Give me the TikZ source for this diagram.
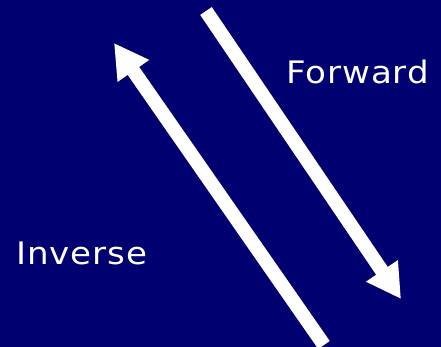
\documentclass[tikz,border=0pt]{standalone}
\usepackage{fontspec}
\setmainfont{DejaVu Sans}
\newfontfamily\lblfont[LetterSpace=3,FakeStretch=1.1]{DejaVu Sans}
\usetikzlibrary{arrows.meta}
\definecolor{bgnavy}{RGB}{0,0,112}
\tikzset{
  bigarrow/.style={white, line width=14pt, -{Triangle[length=34pt,width=36pt]}},
  lbl/.style={white, anchor=base west, inner sep=0pt, font=\lblfont\fontsize{31}{31}\selectfont}
}
\begin{document}
\begin{tikzpicture}[x=1pt,y=-1pt]
\fill[bgnavy] (0,0) rectangle (441,347);
\useasboundingbox (0,0) rectangle (441,347);
\coordinate (fs) at (206,11);
\coordinate (fe) at (401,299);
\coordinate (is) at (324,345);
\coordinate (ie) at (114,43);
\draw[bigarrow] (fs) -- (fe);
\draw[bigarrow] (is) -- (ie);
\node[lbl] (fwd) at (286,84) {Forward};
\node[lbl] (inv) at (16,264) {Inverse};
\end{tikzpicture}
\end{document}
